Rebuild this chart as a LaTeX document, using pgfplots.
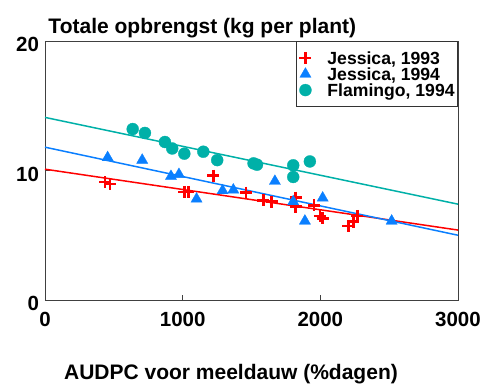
\documentclass[border=0pt]{standalone}
\usepackage{fontspec}
\setmainfont{Liberation Sans}
\usepackage{pgfplots}
\pgfplotsset{compat=1.18}
\definecolor{cred}{RGB}{255,0,0}
\definecolor{cblue}{RGB}{10,127,255}
\definecolor{cteal}{RGB}{0,176,168}
\begin{document}
\begin{tikzpicture}[x=1pt,y=1pt]
\path[use as bounding box] (-45,-85) rectangle (438,300);
\begin{axis}[at={(0,0)}, anchor=south west, scale only axis, width=413pt, height=259pt,
  xmin=0, xmax=3000, ymin=0, ymax=20,
  xtick={0,1000,2000,3000}, ytick={0,10,20},
  tick align=inside, xtick pos=bottom, ytick pos=left, major tick length=4.5pt,
  axis line style={draw=black!75, line width=0.8pt},
  every tick/.style={draw=black!75, line width=0.8pt},
  /pgf/number format/assume math mode=true,
  scaled ticks=false,
  xticklabel style={/pgf/number format/1000 sep={}, yshift=-8.5pt},
  yticklabel style={xshift=-2.5pt, yshift=-3.5pt},
  ticklabel style={font=\fontsize{20.5}{20.5}\selectfont\bfseries},
  legend style={at={(1,1)}, anchor=north east, draw=black!80, line width=0.8pt, fill=white,
    font=\fontsize{17.6}{17.6}\selectfont\bfseries, inner xsep=3pt, inner ysep=8.7pt,
    column sep=16pt, row sep=0pt,
    nodes={inner sep=0pt, text height=14.5pt, text depth=1.5pt}},
  legend cell align=left,
]
\addplot[cred, line width=1.5pt, no marks, forget plot] coordinates {(0,10.1) (3000,5.4)};
\addplot[cblue, line width=1.5pt, no marks, forget plot] coordinates {(0,11.8) (3000,5.0)};
\addplot[cteal, line width=1.5pt, no marks, forget plot] coordinates {(0,14.1) (3000,7.4)};
\addplot[only marks, mark=+, mark size=6pt, line width=2.6pt, color=cred] coordinates {
(436,9.1) (472,8.95) (1012,8.35) (1041,8.35) (1222,9.6) (1460,8.3) (1585,7.7) (1646,7.6)
(1821,7.9) (1821,7.2) (1954,7.3) (1997,6.5) (2017,6.3) (2203,5.7) (2239,6.05) (2268,6.5)};
\addlegendentry{Jessica, 1993}
\addplot[only marks, mark=triangle*, mark size=6.5pt, line width=0.3pt, color=cblue] coordinates {
(455,11.0) (706,10.8) (915,9.55) (973,9.7) (1101,7.8) (1290,8.45) (1368,8.5) (1670,9.17)
(1803,7.6) (1888,6.1) (2017,7.88) (2518,6.1)};
\addlegendentry{Jessica, 1994}
\addplot[only marks, mark=*, mark size=6pt, line width=0.3pt, color=cteal] coordinates {
(637,13.2) (726,12.9) (871,12.2) (924,11.7) (1012,11.3) (1150,11.45) (1251,10.8)
(1515,10.55) (1540,10.45) (1803,10.4) (1803,9.5) (1924,10.7)};
\addlegendentry{Flamingo, 1994}
\end{axis}
\node[anchor=base west, font=\fontsize{21}{21}\selectfont\bfseries, inner sep=0pt] at (3.3,266.7) {Totale opbrengst (kg per plant)};
\node[anchor=base, font=\fontsize{21}{21}\selectfont\bfseries, inner sep=0pt] at (186,-79.5) {AUDPC voor meeldauw (\%dagen)};
\end{tikzpicture}
\end{document}
